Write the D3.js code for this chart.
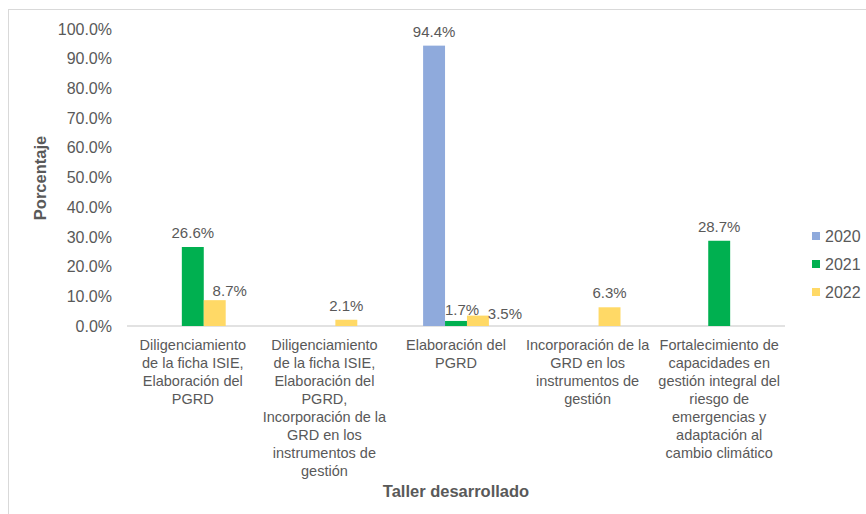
<!DOCTYPE html>
<html>
<head>
<meta charset="utf-8">
<script src="https://cdn.jsdelivr.net/npm/d3@7"></script>
<style>
  body { margin: 0; background: #fff; }
  svg { font-family: "Liberation Sans", Arial, sans-serif; }
  .tick text { fill: #595959; font-size: 16px; }
  .label { fill: #595959; font-size: 15px; }
  .cat { fill: #595959; font-size: 14.5px; }
  .axis-title { fill: #595959; font-size: 16.5px; font-weight: bold; }
</style>
</head>
<body>
<svg width="866" height="514"></svg>
<script>
// Categories (line breaks as in the original chart)
const categories = [
    ["Diligenciamiento", "de la ficha ISIE,", "Elaboración del", "PGRD"],
    ["Diligenciamiento", "de la ficha ISIE,", "Elaboración del", "PGRD,", "Incorporación de la", "GRD en los", "instrumentos de", "gestión"],
    ["Elaboración del", "PGRD"],
    ["Incorporación de la", "GRD en los", "instrumentos de", "gestión"],
    ["Fortalecimiento de", "capacidades en", "gestión integral del", "riesgo de", "emergencias y", "adaptación al", "cambio climático"]
];

const series = ["2020", "2021", "2022"];

// Values in percent, null = no bar
const values2020 = [null, null, 94.4, null, null];
const values2021 = [26.6, null, 1.7, null, 28.7];
const values2022 = [8.7, 2.1, 3.5, 6.3, null];

const yTicks = [0, 10, 20, 30, 40, 50, 60, 70, 80, 90, 100];

const colors = ["#8faadc", "#00b050", "#ffd966"];

// Chart dimensions
const width = 866;
const height = 514;
const margin = { top: 29, right: 81, bottom: 188, left: 127 };

const svg = d3.select("svg");

// Outer border
svg.append("rect")
    .attr("x", 8.5)
    .attr("y", 9.5)
    .attr("width", width)
    .attr("height", height)
    .attr("fill", "none")
    .attr("stroke", "#d9d9d9");

const allValues = [values2020, values2021, values2022];
const data = categories.map((c, i) => ({
    index: i,
    lines: c,
    vals: series.map((s, j) => ({ series: s, j: j, value: allValues[j][i] }))
}));

const xScale = d3.scaleBand()
    .domain(d3.range(categories.length))
    .range([margin.left, width - margin.right])
    .paddingInner(0.5)
    .paddingOuter(0.25);

const xInner = d3.scaleBand()
    .domain(series)
    .range([0, xScale.bandwidth()]);

const yScale = d3.scaleLinear()
    .domain([0, 100])
    .range([height - margin.bottom, margin.top]);

// Y axis
svg.append("g")
    .attr("transform", `translate(${margin.left}, 0)`)
    .call(d3.axisLeft(yScale)
        .tickValues(yTicks)
        .tickSize(0)
        .tickPadding(15)
        .tickFormat(d => d.toFixed(1) + "%"))
    .call(g => g.select(".domain").remove());

// Baseline
svg.append("line")
    .attr("x1", margin.left)
    .attr("x2", width - margin.right)
    .attr("y1", yScale(0))
    .attr("y2", yScale(0))
    .attr("stroke", "#d9d9d9")
    .attr("stroke-width", 1.5);

// Bars
const groups = svg.selectAll(".group")
    .data(data)
    .enter()
    .append("g")
    .attr("class", "group")
    .attr("transform", d => `translate(${xScale(d.index)}, 0)`);

groups.selectAll("rect")
    .data(d => d.vals.filter(v => v.value !== null))
    .enter()
    .append("rect")
    .attr("x", v => xInner(v.series))
    .attr("y", v => yScale(v.value))
    .attr("width", xInner.bandwidth())
    .attr("height", v => yScale(0) - yScale(v.value))
    .attr("fill", v => colors[v.j]);

// Data labels (small offsets where Excel moved overlapping labels)
const labelShift = { "0-2": [15, 5], "2-1": [6, 3], "2-2": [27, 12] };

groups.selectAll(".label")
    .data(d => d.vals.filter(v => v.value !== null).map(v => ({ ...v, cat: d.index })))
    .enter()
    .append("text")
    .attr("class", "label")
    .attr("text-anchor", "middle")
    .attr("x", v => xInner(v.series) + xInner.bandwidth() / 2 + (labelShift[v.cat + "-" + v.j] || [0, 0])[0])
    .attr("y", v => yScale(v.value) - 9 + (labelShift[v.cat + "-" + v.j] || [0, 0])[1])
    .text(v => v.value.toFixed(1) + "%");

// Category labels
const catText = svg.selectAll(".cat")
    .data(data)
    .enter()
    .append("text")
    .attr("class", "cat")
    .attr("text-anchor", "middle")
    .attr("transform", d => `translate(${xScale(d.index) + xScale.bandwidth() / 2}, ${yScale(0) + 24})`);

catText.selectAll("tspan")
    .data(d => d.lines)
    .enter()
    .append("tspan")
    .attr("x", 0)
    .attr("y", (l, i) => i * 18)
    .text(l => l);

// Legend
const legend = svg.selectAll(".legend")
    .data(series)
    .enter()
    .append("g")
    .attr("class", "legend")
    .attr("transform", (d, i) => `translate(812, ${236 + i * 28})`);

legend.append("rect")
    .attr("x", 0)
    .attr("y", -4)
    .attr("width", 8)
    .attr("height", 8)
    .attr("fill", (d, i) => colors[i]);

legend.append("text")
    .attr("x", 13)
    .attr("y", 6)
    .attr("fill", "#595959")
    .style("font-size", "16px")
    .text(d => d);

// Axis titles
svg.append("text")
    .attr("class", "axis-title")
    .attr("transform", "rotate(-90)")
    .attr("x", -178)
    .attr("y", 46)
    .attr("text-anchor", "middle")
    .text("Porcentaje");

svg.append("text")
    .attr("class", "axis-title")
    .attr("x", (margin.left + width - margin.right) / 2)
    .attr("y", 497)
    .attr("text-anchor", "middle")
    .text("Taller desarrollado");
</script>
</body>
</html>
